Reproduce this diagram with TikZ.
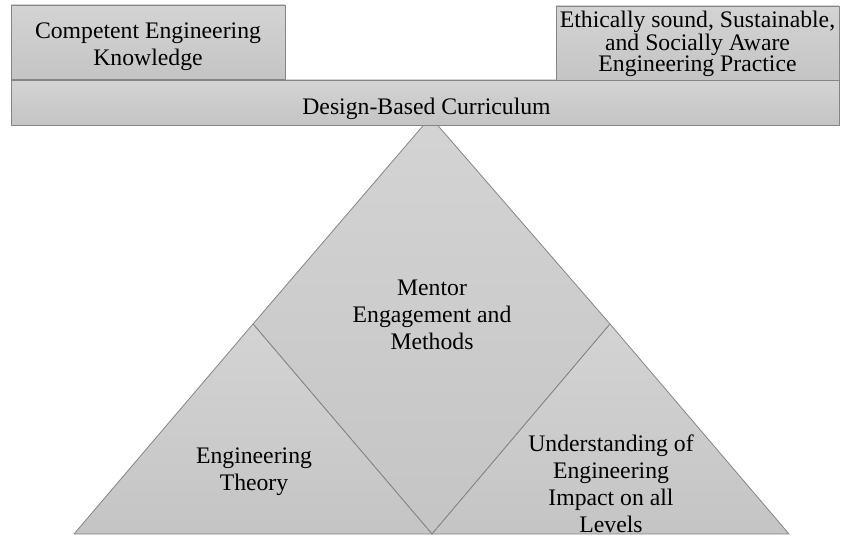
\documentclass[tikz,border=0pt]{standalone}
\usepackage{fontspec}
\setmainfont{Liberation Serif}
\definecolor{edgegray}{HTML}{858585}
\tikzset{
  block/.style={draw=edgegray,line width=0.8bp,top color=gray!34,bottom color=gray!46},
  blocktext/.style={align=center,inner sep=0pt,font=\fontsize{23.8}{27}\selectfont}
}

\begin{document}
\begin{tikzpicture}[x=1bp,y=-1bp,line join=round]
\useasboundingbox (0,0) rectangle (841,536);
\clip (0,0) rectangle (841,536);
\path[block] (430.5,117) -- (253,324) -- (432,534) -- (610,324) -- cycle;
\path[block] (74,534) -- (253,324) -- (432,534) -- cycle;
\path[block] (432,534) -- (610,324) -- (789,534) -- cycle;
\path[block] (11,80) rectangle (839,125);
\path[block] (11,5) rectangle (285,79);
\path[block] (556,6) rectangle (839,80);
\node[blocktext] (knowledge) at (148,47) {Competent Engineering\\Knowledge};
\node[blocktext,font=\fontsize{23.8}{20.5}\selectfont] (practice) at (697.5,44) {Ethically sound, Sustainable,\\and Socially Aware\\Engineering Practice};
\node[blocktext,anchor=base] (curriculum) at (426.5,115) {Design-Based Curriculum};
\node[blocktext] (mentor) at (432,315) {Mentor\\Engagement and\\Methods};
\node[blocktext] (theory) at (254,472) {Engineering\\Theory};
\node[blocktext] (impact) at (611,484) {Understanding of\\Engineering\\Impact on all\\Levels};
\end{tikzpicture}
\end{document}
